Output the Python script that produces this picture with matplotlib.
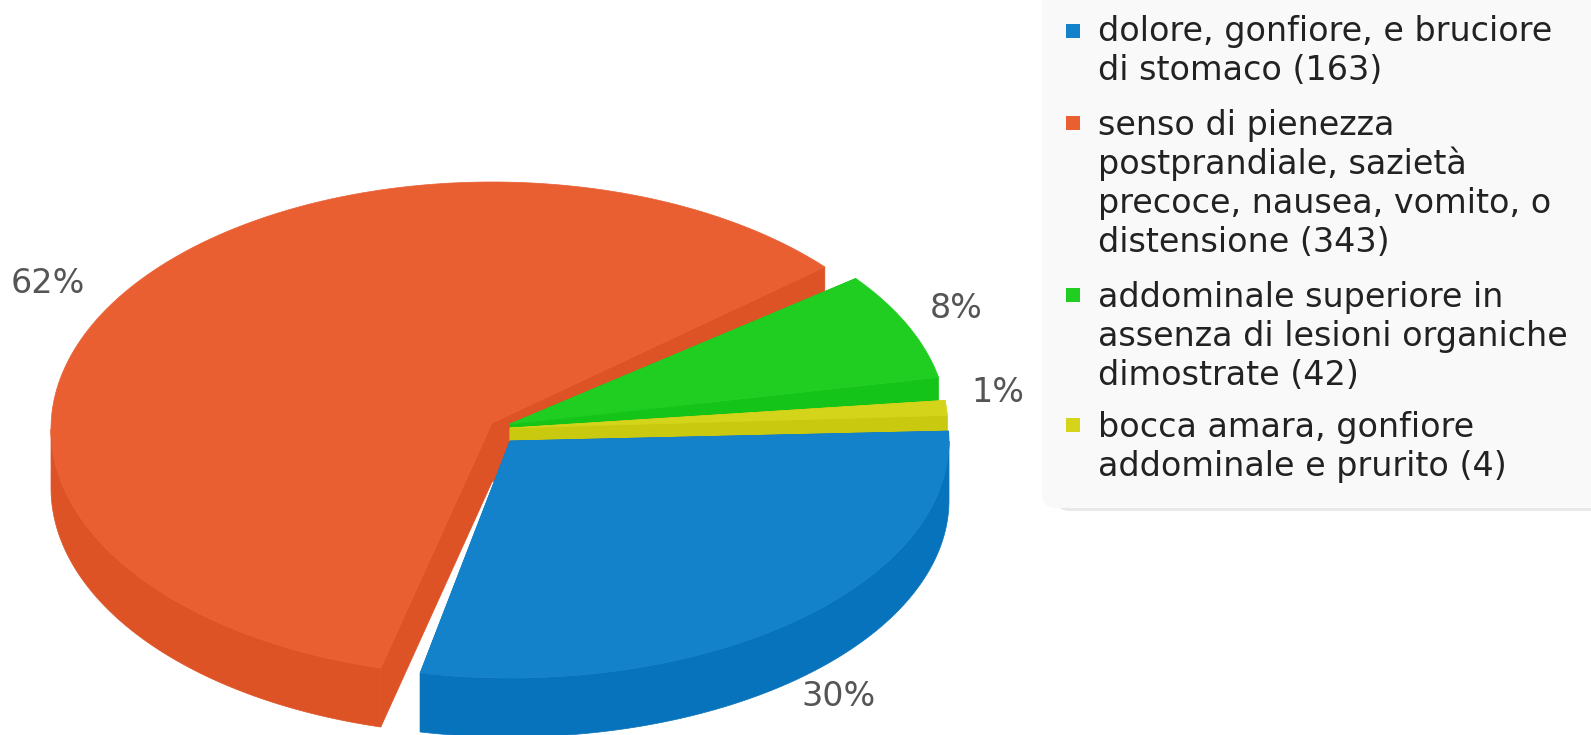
import numpy as np
import matplotlib
matplotlib.use("Agg")
import matplotlib.pyplot as plt
from matplotlib.patches import Polygon, FancyBboxPatch, Rectangle

# ---- data ----
categories = [
    ["dolore, gonfiore, e bruciore", "di stomaco (163)"],
    ["senso di pienezza", "postprandiale, sazietà", "precoce, nausea, vomito, o", "distensione (343)"],
    ["addominale superiore in", "assenza di lesioni organiche", "dimostrate (42)"],
    ["bocca amara, gonfiore", "addominale e prurito (4)"],
]
values = [163, 343, 42, 4]
pct_labels = ["30%", "62%", "8%", "1%"]

# ---- style / layout ----
top_colors = ["#1481CB", "#E95F32", "#20CE22", "#D4D41A"]
wall_colors = ["#0773BC", "#DD5326", "#15C418", "#C9C90F"]
tips = [(510, 441), (492, 423), (510, 424), (510, 428)]
centers = [(510, 441), (492, 429), (510, 424), (510, 428)]
radii = [(439, 237), (441, 247), (437, 238), (438, 240)]
trim = [(-2.4, -4.5), (-1.7, -11.0), (-7.7, -8.7), (-4.0, -3.0)]
depth = 59
draw_order = [1, 2, 3, 0]
pct_pos = [(839, 697), (48, 283), (956, 308), (998, 392)]
first_baselines = [40.5, 134.5, 306.5, 436.5]
marker_y = [31, 123, 295, 425]
line_step = 39.3

fig = plt.figure(figsize=(15.91, 7.35), dpi=100)
ax = fig.add_axes([0, 0, 1, 1])
ax.set_xlim(0, 1591)
ax.set_ylim(735, 0)
ax.axis("off")

edges = np.cumsum([0] + values) / sum(values) * 360.0


def arc(c, r, a1, a2, dz=0.0):
    """Points of the ellipse, angles clockwise on screen from east, degrees."""
    t = np.radians(np.linspace(a1, a2, max(int(abs(a2 - a1) * 2), 2)))
    return np.column_stack([c[0] + r[0] * np.cos(t), c[1] + r[1] * np.sin(t) + dz])


for i in draw_order:
    a1 = edges[i] + trim[i][0]
    a2 = edges[i + 1] + trim[i][1]
    c, r, tip = centers[i], radii[i], tips[i]
    top_arc = arc(c, r, a1, a2)
    # cut faces
    for end in (top_arc[0], top_arc[-1]):
        ax.add_patch(Polygon([tip, end, end + [0, depth], (tip[0], tip[1] + depth)],
                             closed=True, fc=wall_colors[i], ec=wall_colors[i], lw=0.5, zorder=2 + draw_order.index(i)))
    # rim: the part of the outline facing the viewer (screen angle 0..180)
    for k in (0, 360):
        lo, hi = max(a1, k), min(a2, k + 180)
        if hi > lo:
            up = arc(c, r, lo, hi)
            down = arc(c, r, lo, hi, depth)
            ax.add_patch(Polygon(np.vstack([up, down[::-1]]), closed=True,
                                 fc=wall_colors[i], ec=wall_colors[i], lw=0.5, zorder=2 + draw_order.index(i)))
    ax.add_patch(Polygon(np.vstack([[tip], top_arc]), closed=True,
                         fc=top_colors[i], ec=top_colors[i], lw=0.5, zorder=2.5 + draw_order.index(i)))
    ax.text(*pct_pos[i], pct_labels[i], color="#555555", fontsize=24,
            ha="center", va="center", family="DejaVu Sans", zorder=10)

# legend panel
ax.add_patch(FancyBboxPatch((1056, -30), 560, 541, boxstyle="round,pad=0,rounding_size=14",
                            mutation_aspect=1, fc="#E9E9E9", ec="none", zorder=1))
ax.add_patch(FancyBboxPatch((1042, -30), 574, 538, boxstyle="round,pad=0,rounding_size=14",
                            fc="#F9F9F9", ec="none", zorder=1.1))
for i, lines in enumerate(categories):
    ax.add_patch(Rectangle((1066, marker_y[i] - 7), 14, 14, fc=top_colors[i], ec="none", zorder=11))
    for j, line in enumerate(lines):
        ax.text(1098, first_baselines[i] + j * line_step, line, color="#222222", fontsize=24,
                ha="left", va="baseline", family="DejaVu Sans", zorder=11)

fig.savefig("out.png", dpi=100, facecolor="white")
